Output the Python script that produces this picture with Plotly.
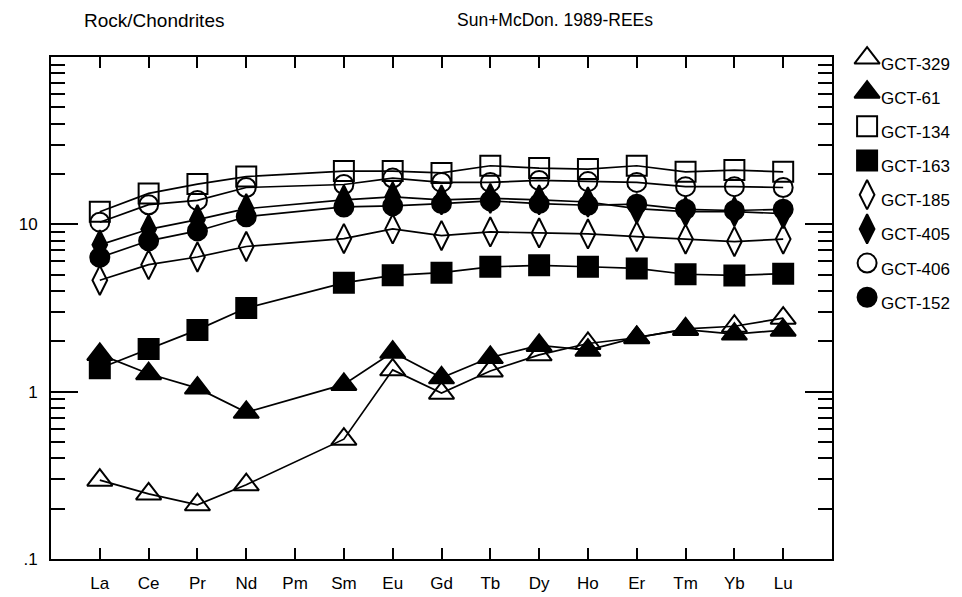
import plotly.graph_objects as go

# ---------------- data ----------------
elements = ["La", "Ce", "Pr", "Nd", "Pm", "Sm", "Eu", "Gd", "Tb", "Dy", "Ho", "Er", "Tm", "Yb", "Lu"]

names = ["GCT-329", "GCT-61", "GCT-134", "GCT-163", "GCT-185", "GCT-405", "GCT-406", "GCT-152"]

gct329 = [0.296, 0.245, 0.211, 0.278, None, 0.520, 1.35, 0.98, 1.33, 1.66, 1.94, 2.10, 2.37, 2.46, 2.75]
gct61 = [1.67, 1.28, 1.05, 0.753, None, 1.105, 1.72, 1.21, 1.60, 1.89, 1.77, 2.11, 2.35, 2.21, 2.33]
gct134 = [11.9, 15.3, 17.4, 19.3, None, 20.8, 20.8, 20.3, 22.4, 21.7, 21.4, 22.4, 20.6, 21.1, 20.6]
gct163 = [1.38, 1.80, 2.34, 3.16, None, 4.47, 4.96, 5.14, 5.57, 5.69, 5.58, 5.45, 5.03, 4.95, 5.07]
gct185 = [4.63, 5.74, 6.38, 7.37, None, 8.22, 9.39, 8.57, 9.01, 8.89, 8.76, 8.45, 8.16, 7.89, 8.16]
gct405 = [7.54, 9.34, 10.66, 12.4, None, 14.0, 14.6, 14.0, 14.3, 14.0, 13.6, 12.4, 11.9, 11.9, 11.6]
gct406 = [10.3, 13.1, 13.9, 16.6, None, 17.3, 18.9, 17.8, 17.8, 18.3, 18.0, 17.8, 16.8, 16.8, 16.6]
gct152 = [6.34, 7.97, 9.13, 11.1, None, 12.7, 12.9, 13.3, 13.8, 13.3, 13.0, 13.2, 12.3, 12.1, 12.3]

values = [gct329, gct61, gct134, gct163, gct185, gct405, gct406, gct152]

y_major = [0.1, 1, 10, 100]
y_major_text = [".1", "1", "10", ""]
y_minor = [0.2, 0.3, 0.4, 0.5, 0.6, 0.7, 0.8, 0.9,
           2, 3, 4, 5, 6, 7, 8, 9,
           20, 30, 40, 50, 60, 70, 80, 90]

# ---------------- styles ----------------
symbols = ["triangle-up-open", "triangle-up", "square-open", "square",
           "diamond-tall-open", "diamond-tall", "circle-open", "circle"]
sizes = [22, 22, 20, 20, 21, 21, 19, 19]

FONT = "Liberation Sans, Arial, Helvetica, sans-serif"
x_pos = list(range(1, len(elements) + 1))

fig = go.Figure()

for name, vals, sym, sz in zip(names, values, symbols, sizes):
    fig.add_trace(go.Scatter(
        x=x_pos, y=vals, name=name, mode="lines+markers", connectgaps=True,
        line=dict(color="black", width=1.7),
        marker=dict(symbol=sym, size=sz, color="black", opacity=1,
                    line=dict(color="black", width=2)),
        cliponaxis=False, showlegend=False,
    ))

# custom legend on a hidden axis
leg_rows = list(range(len(names)))
fig.add_trace(go.Scatter(
    x=[0] * len(names), y=leg_rows, mode="markers", xaxis="x2", yaxis="y2",
    marker=dict(symbol=symbols, size=sizes, color="black", opacity=1,
                line=dict(color="black", width=2)),
    cliponaxis=False, showlegend=False, hoverinfo="skip",
))

annotations = []
for i, name in zip(leg_rows, names):
    annotations.append(dict(
        x=0.1, y=i, xref="x2", yref="y2", text=name, showarrow=False,
        xanchor="left", yanchor="middle", yshift=-6,
        font=dict(family=FONT, size=17, color="black"),
    ))

annotations.append(dict(x=0.0342, y=1.0734, xref="paper", yref="paper", text="Rock/Chondrites",
                        showarrow=False, xanchor="left", yanchor="middle",
                        font=dict(family=FONT, size=19, color="black")))
annotations.append(dict(x=0.4454, y=1.0734, xref="paper", yref="paper", text="Sun+McDon. 1989-REEs",
                        showarrow=False, xanchor="left", yanchor="middle",
                        font=dict(family=FONT, size=17.5, color="black")))

fig.update_layout(
    width=962, height=597,
    margin=dict(l=51, r=4, t=57, b=36),
    paper_bgcolor="white", plot_bgcolor="white",
    showlegend=False,
    annotations=annotations,
    xaxis=dict(
        domain=[0, 781 / 907], range=[0, 16],
        tickmode="array", tickvals=x_pos, ticktext=elements,
        ticks="inside", ticklen=11, tickwidth=2, tickcolor="black",
        showline=True, linewidth=2, linecolor="black", mirror="ticks",
        showgrid=False, zeroline=False,
        tickfont=dict(family=FONT, size=17, color="black"),
        ticklabelstandoff=8,
    ),
    yaxis=dict(
        type="log", range=[-1, 2],
        tickmode="array", tickvals=y_major, ticktext=y_major_text,
        ticks="inside", ticklen=27, tickwidth=2, tickcolor="black",
        minor=dict(tickmode="array", tickvals=y_minor, ticks="inside", ticklen=14,
                   tickwidth=2, tickcolor="black", showgrid=False),
        showline=True, linewidth=2, linecolor="black", mirror="ticks",
        showgrid=False, zeroline=False,
        tickfont=dict(family=FONT, size=17, color="black"),
        ticklabelstandoff=8,
    ),
    xaxis2=dict(domain=[0.87, 1.0], range=[-0.229, 0.771], visible=False, anchor="y2"),
    yaxis2=dict(domain=[0, 1], range=[14.66, -0.03], visible=False, anchor="x2"),
)

fig.write_html("out.html", config={"displayModeBar": False},
               post_script="document.body.style.margin='0';document.body.style.overflow='hidden';")
